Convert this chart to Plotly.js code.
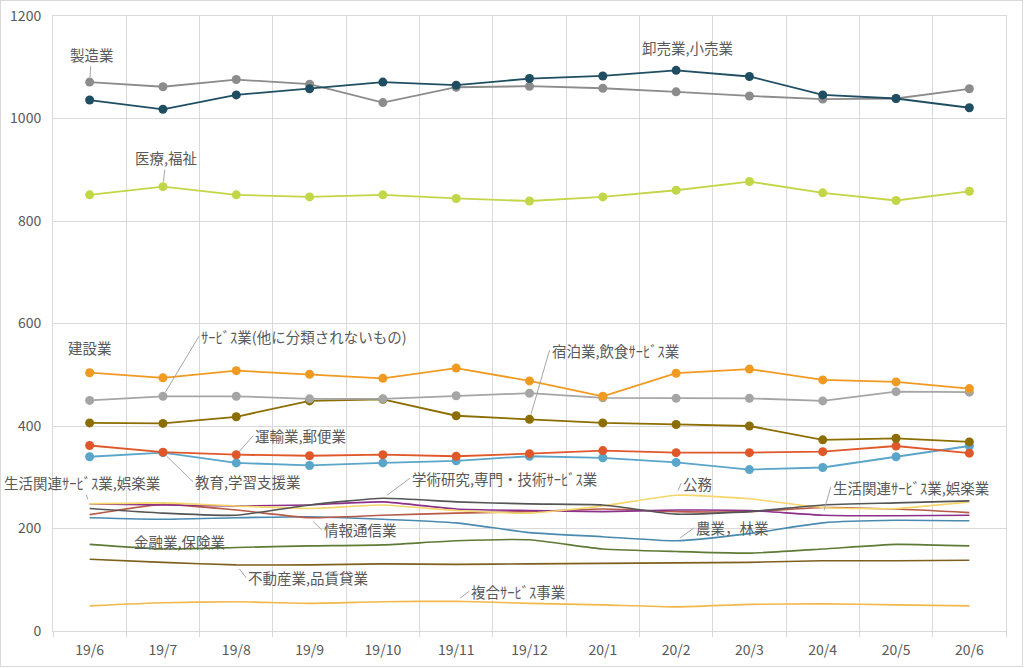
<!DOCTYPE html>
<html>
<head>
<meta charset="utf-8">
<script src="https://cdn.plot.ly/plotly-3.0.1.min.js"></script>
<style>
html,body{margin:0;padding:0;background:#fff;}
#wrap{position:absolute;left:0;top:0;width:1023px;height:667px;box-sizing:border-box;border:1px solid #d9d9d9;}
#chart{position:absolute;left:0;top:0;width:1024px;height:668px;}
</style>
</head>
<body>
<div id="chart"></div>
<div id="wrap"></div>
<script>
const months = ['19/6','19/7','19/8','19/9','19/10','19/11','19/12','20/1','20/2','20/3','20/4','20/5','20/6'];

const wholesale     = [1036,1018,1046,1058,1071,1065,1078,1083,1094,1082,1046,1039,1021];
const manufacturing = [1071,1062,1076,1067,1031,1061,1063,1059,1052,1044,1038,1039,1058];
const medical       = [851,867,851,847,851,844,839,847,860,877,855,840,858];
const construction  = [504,494,508,501,493,513,488,458,503,511,490,486,473];
const services      = [450,458,458,453,453,459,464,455,454,454,449,467,466];
const accommodation = [406,405,418,449,452,420,413,406,403,400,373,376,369];
const transport     = [362,349,344,342,344,341,346,352,348,348,350,361,347];
const education     = [340,348,328,323,328,332,341,338,329,315,319,340,361];
const academic      = [239,230,226,246,259,252,248,246,228,233,246,250,254];
const publicService = [248,250,244,239,246,235,230,244,265,258,241,239,252];
const lifestyle     = [248,246,244,246,252,238,235,233,236,235,226,225,226];
const infoComm      = [227,247,236,221,226,230,233,238,233,233,241,238,231];
const agriculture   = [221,218,221,223,218,211,192,184,176,190,211,216,215];
const finance       = [169,160,163,166,168,176,178,160,155,152,160,169,166];
const realEstate    = [140,134,129,129,131,130,131,132,133,134,137,137,138];
const compound      = [49,55,57,54,57,58,54,51,47,52,53,51,49];

const names = {
  wholesale:'卸売業,小売業', manufacturing:'製造業', medical:'医療,福祉', construction:'建設業',
  services:'ｻｰﾋﾞｽ業(他に分類されないもの)', accommodation:'宿泊業,飲食ｻｰﾋﾞｽ業', transport:'運輸業,郵便業',
  education:'教育,学習支援業', academic:'学術研究,専門・技術ｻｰﾋﾞｽ業', publicService:'公務',
  lifestyle:'生活関連ｻｰﾋﾞｽ業,娯楽業', infoComm:'情報通信業', agriculture:'農業，林業',
  finance:'金融業,保険業', realEstate:'不動産業,品賃貸業', compound:'複合ｻｰﾋﾞｽ事業'
};

function plain(y, name, color){
  return {x: months, y: y, name: name, type:'scatter', mode:'lines',
          line:{color:color, width:1.6, shape:'spline', smoothing:0.5}};
}
function mk(y, name, color){
  return {x: months, y: y, name: name, type:'scatter', mode:'lines+markers',
          line:{color:color, width:1.8}, marker:{color:color, size:9}};
}

const traces = [
  plain(compound, names.compound, '#f2b84b'),
  plain(realEstate, names.realEstate, '#7d5f1e'),
  plain(finance, names.finance, '#5f7a34'),
  plain(agriculture, names.agriculture, '#4a8ab0'),
  plain(infoComm, names.infoComm, '#b85a48'),
  plain(lifestyle, names.lifestyle, '#8b2f8b'),
  plain(publicService, names.publicService, '#f5d66b'),
  plain(academic, names.academic, '#555555'),
  mk(education, names.education, '#5aa5ca'),
  mk(transport, names.transport, '#e0582a'),
  mk(accommodation, names.accommodation, '#8c6d00'),
  mk(services, names.services, '#a5a5a5'),
  mk(construction, names.construction, '#f09a22'),
  mk(medical, names.medical, '#c3d647'),
  mk(manufacturing, names.manufacturing, '#8c8c8c'),
  mk(wholesale, names.wholesale, '#1f4e63')
];

const annFont = {family:'"Noto Sans CJK JP", "Noto Sans", sans-serif', size:14.5, color:'#595959'};
function ann(name, series, i, ax, ay, anchor, hide){
  return {x: months[i], y: series[i], text: name, showarrow: true, arrowhead: 0,
          arrowwidth: 1, arrowcolor: hide ? 'rgba(0,0,0,0)' : '#a6a6a6',
          ax: ax, ay: ay, xanchor: anchor || 'center', yanchor: 'middle',
          standoff: 5, font: annFont};
}

const annotations = [
  ann(names.manufacturing, manufacturing, 0, 2, -28, 'center'),
  ann(names.wholesale, wholesale, 8, 11, -23, 'center', true),
  ann(names.medical, medical, 1, 3, -29, 'center'),
  ann(names.construction, construction, 0, 0, -25, 'center', true),
  ann(names.services, services, 1, 36, -60, 'left'),
  ann(names.accommodation, accommodation, 6, 20, -69, 'left'),
  ann(names.transport, transport, 2, 17, -19, 'left'),
  ann(names.education, education, 1, 30, 29, 'left'),
  ann(names.lifestyle, lifestyle, 0, -8, -21, 'center'),
  ann(names.academic, academic, 4, 27, -20, 'left'),
  ann(names.infoComm, infoComm, 3, 12, 12, 'left'),
  ann(names.publicService, publicService, 8, 5, -12, 'left'),
  ann(names.lifestyle, lifestyle, 10, 8, -28, 'left'),
  ann(names.agriculture, agriculture, 8, 18, -13, 'left'),
  ann(names.finance, finance, 1, 17, -8, 'center', true),
  ann(names.realEstate, realEstate, 2, 10, 13, 'left'),
  ann(names.compound, compound, 5, 13, -10, 'left')
];

const tickFont = {family:'"Noto Sans CJK JP", "Noto Sans", sans-serif', size:14, color:'#595959'};

const layout = {
  width: 1024, height: 668,
  margin: {l:53, r:18, t:16, b:37},
  paper_bgcolor:'#ffffff', plot_bgcolor:'#ffffff',
  showlegend: false,
  xaxis: {type:'category', range:[-0.5, 12.5], autorange:false, tickson:'boundaries', showgrid:true, gridcolor:'#d9d9d9', gridwidth:1,
          ticks:'outside', ticklen:5, tickcolor:'#d9d9d9', showline:true, linecolor:'#d9d9d9', mirror:true,
          tickfont: tickFont, ticklabelstandoff: 6, zeroline:false, fixedrange:true},
  yaxis: {range:[0,1200], autorange:false, tickvals:[0,200,400,600,800,1000,1200], showgrid:true, gridcolor:'#d9d9d9', gridwidth:1,
          ticks:'', showline:true, linecolor:'#d9d9d9', mirror:true, zeroline:false, tickfont: tickFont,
          ticklabelstandoff: 8, fixedrange:true},
  annotations: annotations,
  font: tickFont
};

Plotly.newPlot('chart', traces, layout, {displayModeBar:false, staticPlot:true});
</script>
</body>
</html>
